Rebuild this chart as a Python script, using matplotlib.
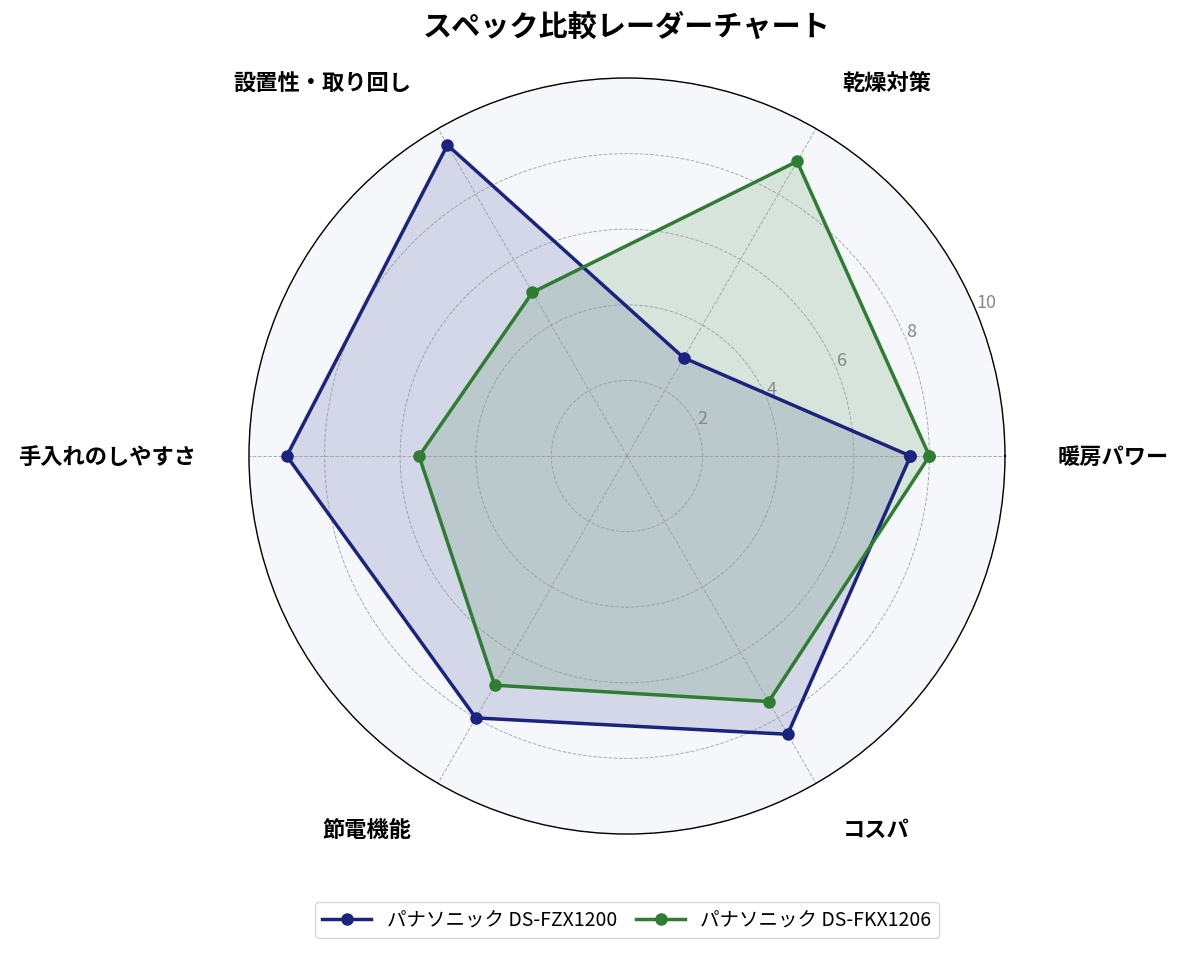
import numpy as np
import matplotlib.pyplot as plt

plt.rcParams['font.family'] = ['Noto Sans CJK JP', 'DejaVu Sans']

# データ
categories = ['暖房パワー', '乾燥対策', '設置性・取り回し', '手入れのしやすさ', '節電機能', 'コスパ']
series_names = ['パナソニック DS-FZX1200', 'パナソニック DS-FKX1206']
fzx1200 = [7.5, 3.0, 9.5, 9.0, 8.0, 8.5]
fkx1206 = [8.0, 9.0, 5.0, 5.5, 7.0, 7.5]
colors = ['#1a237e', '#2e7d32']

n = len(categories)
angles = np.linspace(0, 2 * np.pi, n, endpoint=False).tolist()
angles_closed = angles + angles[:1]

fig = plt.figure(figsize=(11.85, 9.54), dpi=100)
ax = fig.add_axes([0.2101, 0.1247, 0.638, 0.7925], projection='polar')
ax.set_facecolor('#f5f7fa')

for vals, name, c in zip([fzx1200, fkx1206], series_names, colors):
    v = vals + vals[:1]
    ax.plot(angles_closed, v, color=c, linewidth=2.5, marker='o', markersize=8, label=name)
    ax.fill(angles_closed, v, color=c, alpha=0.15)

ax.set_ylim(0, 10)
ax.set_yticks([2, 4, 6, 8, 10])
ax.set_yticklabels(['2', '4', '6', '8', '10'], color='#888888', fontsize=13)
ax.set_rlabel_position(22.5)
ax.set_thetagrids(np.degrees(angles), [''] * n)
ax.grid(color='#999999', linestyle='--', linewidth=0.7, alpha=0.8)
ax.spines['polar'].set_color('black')
ax.spines['polar'].set_linewidth(1.0)

# 軸ラベル（円の外側に配置）
for a, lab in zip(angles, categories):
    ha = 'left' if np.cos(a) > 0.01 else 'right'
    ax.text(a, 11.4, lab, ha=ha, va='center', fontsize=16, fontweight='bold',
            clip_on=False)

cx = 627 / 1185
fig.text(cx, 1 - 27 / 954, 'スペック比較レーダーチャート', fontsize=21, fontweight='bold',
         ha='center', va='center')
fig.legend(loc='center', bbox_to_anchor=(cx, 1 - 921 / 954), ncol=2, fontsize=14,
           frameon=True, handlelength=2.5, columnspacing=1.0)

plt.savefig('out.png', dpi=100)
